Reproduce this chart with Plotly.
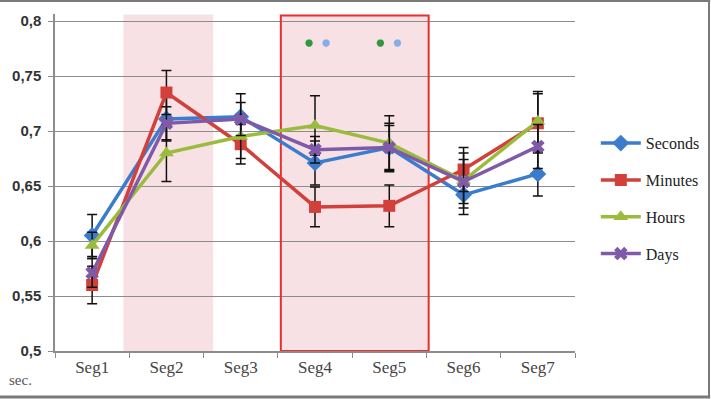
import plotly.graph_objects as go

categories = ["Seg1", "Seg2", "Seg3", "Seg4", "Seg5", "Seg6", "Seg7"]
seconds = [0.605, 0.711, 0.713, 0.671, 0.685, 0.642, 0.661]
minutes = [0.560, 0.735, 0.688, 0.631, 0.632, 0.665, 0.707]
hours = [0.596, 0.680, 0.695, 0.705, 0.689, 0.655, 0.709]
days = [0.571, 0.707, 0.711, 0.683, 0.685, 0.654, 0.686]
err_seconds = [0.019, 0.020, 0.021, 0.020, 0.020, 0.018, 0.020]
err_minutes = [0.017, 0.020, 0.018, 0.018, 0.019, 0.020, 0.027]
err_hours = [0.012, 0.026, 0.020, 0.027, 0.025, 0.025, 0.027]
err_days = [0.013, 0.015, 0.015, 0.012, 0.022, 0.020, 0.020]
ytick_vals = [0.5, 0.55, 0.6, 0.65, 0.7, 0.75, 0.8]
ytick_text = ["0,5", "0,55", "0,6", "0,65", "0,7", "0,75", "0,8"]
sig_green_x = [2.92, 3.88]
sig_blue_x = [3.15, 4.11]
sig_y = [0.78, 0.78]

xs = list(range(len(categories)))

series = [
    ("Seconds", seconds, err_seconds, "#3b7dcc", "diamond", 13),
    ("Minutes", minutes, err_minutes, "#d2403b", "square", 12),
    ("Hours", hours, err_hours, "#9bbb3c", "triangle-up", 13),
    ("Days", days, err_days, "#7e5aa8", "x", 12),
]

fig = go.Figure()
for i, (name, vals, errs, col, sym, sz) in enumerate(series):
    fig.add_trace(go.Scatter(
        x=xs, y=vals, name=name, mode="lines+markers",
        line=dict(color=col, width=3.5),
        marker=dict(symbol=sym, size=sz, color=col),
        error_y=dict(type="data", array=errs, visible=True, color="#111111",
                     thickness=1.5, width=5),
        legendgroup=name,
    ))

fig.add_trace(go.Scatter(x=sig_green_x, y=sig_y, mode="markers", showlegend=False,
                         marker=dict(symbol="asterisk-open", size=6, color="#2f9a3c",
                                     line=dict(color="#2f9a3c", width=2.5))))
fig.add_trace(go.Scatter(x=sig_blue_x, y=sig_y, mode="markers", showlegend=False,
                         marker=dict(symbol="asterisk-open", size=6, color="#86aee6",
                                     line=dict(color="#86aee6", width=2.5))))

pink = "#f8e1e5"
fig.add_shape(type="rect", xref="x", yref="y", x0=0.42, x1=1.63, y0=0.5, y1=0.806,
              fillcolor=pink, line=dict(width=0), layer="below")
fig.add_shape(type="rect", xref="x", yref="y", x0=2.54, x1=4.53, y0=0.5, y1=0.805,
              fillcolor=pink, line=dict(width=0), layer="below")
fig.add_shape(type="rect", xref="x", yref="y", x0=2.54, x1=4.53, y0=0.5, y1=0.805,
              fillcolor="rgba(0,0,0,0)", line=dict(color="#e4312f", width=2), layer="between")

# outer frame of the picture (top, right, bottom)
frame = dict(color="#7a7a7a", width=2)
fig.add_shape(type="line", xref="paper", yref="paper", x0=-0.11, x1=1.26, y0=1.0386, y1=1.0386, line=frame)
fig.add_shape(type="line", xref="paper", yref="paper", x0=-0.11, x1=1.26, y0=-0.1365, y1=-0.1365, line=dict(color="#7a7a7a", width=3))
fig.add_shape(type="line", xref="paper", yref="paper", x0=1.2577, x1=1.2577, y0=-0.14, y1=1.04, line=frame)

fig.add_annotation(text="sec.", xref="paper", yref="paper", x=-0.067, y=-0.087,
                   showarrow=False, xanchor="center", yanchor="middle",
                   font=dict(family="Liberation Serif", size=15, color="#555555"))

fig.update_layout(
    width=711, height=399,
    margin=dict(l=55, r=136, t=14, b=48, autoexpand=False),
    paper_bgcolor="white", plot_bgcolor="white",
    showlegend=True,
    legend=dict(x=1.04, y=0.667, xanchor="left", yanchor="top",
                font=dict(family="Liberation Serif", size=16, color="#222222"),
                tracegroupgap=13, itemwidth=40, bgcolor="rgba(0,0,0,0)"),
    xaxis=dict(range=[-0.5, 6.5], tickvals=xs, ticktext=categories,
               showgrid=False, showline=True, linecolor="#8c8c8c", linewidth=1.5,
               ticks="", zeroline=False,
               tickfont=dict(family="Liberation Serif", size=17, color="#444444"),
               minor=dict(tickvals=[i + 0.5 for i in range(-1, 7)], ticks="outside",
                          ticklen=5, tickcolor="#8c8c8c", showgrid=False)),
    yaxis=dict(range=[0.5, 0.8064], tickvals=ytick_vals, ticktext=ytick_text,
               showgrid=True, gridcolor="#8c8c8c", gridwidth=1,
               showline=True, linecolor="#8c8c8c", linewidth=1.5,
               ticks="outside", ticklen=5, tickcolor="#8c8c8c", zeroline=False,
               ticklabelstandoff=4,
               tickfont=dict(family="Liberation Sans", size=15, color="#333333",
                             weight="bold")),
)

fig.write_html("out.html")
